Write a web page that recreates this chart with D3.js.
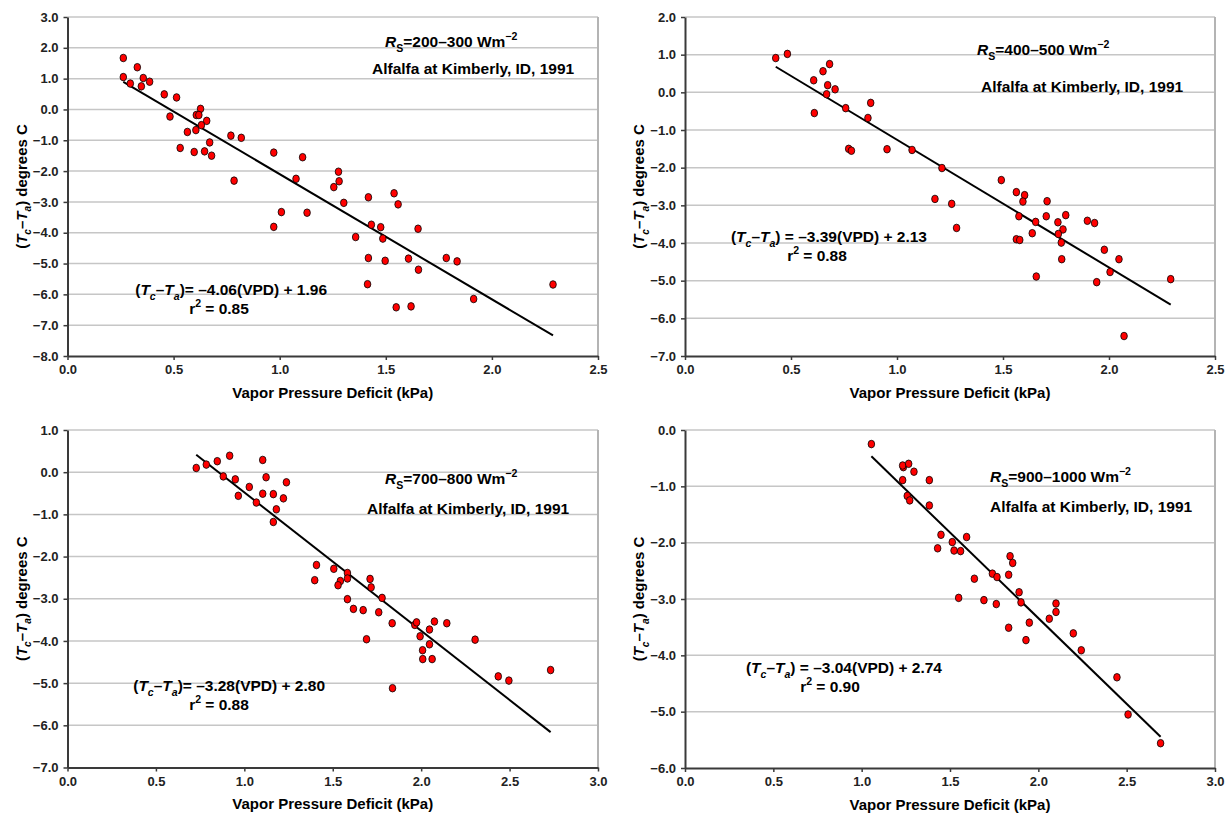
<!DOCTYPE html>
<html>
<head>
<meta charset="utf-8">
<script src="https://cdn.jsdelivr.net/npm/d3@7"></script>
<style>
  body { margin: 0; background: #fff; }
  svg { font-family: "Liberation Sans", Arial, sans-serif; font-weight: bold; }
</style>
</head>
<body>
<svg id="chart" width="1228" height="814"></svg>
<script>
// values: VPD (kPa) and Tc-Ta (degrees C), one pair of arrays per panel
const vpd1 = [0.263,0.263,0.296,0.329,0.357,0.348,0.387,0.456,0.514,0.483,0.627,0.607,0.619,0.656,0.631,0.605,0.565,0.531,0.597,0.646,0.679,0.670,0.770,0.819,0.785,0.972,1.108,1.077,1.008,1.129,0.972,1.277,1.280,1.255,1.302,1.418,1.539,1.558,1.432,1.476,1.486,1.358,1.652,1.418,1.497,1.607,1.654,1.785,1.836,1.414,1.549,1.619,1.914,2.288];
const dT1  = [1.67,1.05,0.84,1.37,1.02,0.75,0.90,0.49,0.39,-0.23,0.02,-0.18,-0.18,-0.37,-0.51,-0.67,-0.73,-1.25,-1.38,-1.36,-1.50,-1.07,-0.85,-0.92,-2.31,-1.40,-1.55,-2.25,-3.33,-3.35,-3.81,-2.02,-2.33,-2.52,-3.03,-2.85,-2.72,-3.08,-3.74,-3.82,-4.19,-4.14,-3.87,-4.82,-4.91,-4.84,-5.20,-4.82,-4.93,-5.67,-6.42,-6.39,-6.15,-5.68];

const vpd2 = [0.428,0.483,0.607,0.610,0.651,0.682,0.673,0.668,0.708,0.758,0.772,0.785,0.876,0.863,0.953,1.071,1.179,1.212,1.258,1.281,1.492,1.563,1.602,1.594,1.708,1.575,1.654,1.704,1.796,1.759,1.783,1.761,1.775,1.638,1.563,1.579,1.777,1.657,1.898,1.932,1.978,2.047,2.005,1.942,2.291,2.071];
const dT2  = [0.91,1.02,0.32,-0.55,0.56,0.75,0.19,-0.05,0.08,-0.42,-1.50,-1.55,-0.28,-0.68,-1.51,-1.53,-2.83,-2.01,-2.96,-3.60,-2.33,-2.65,-2.73,-2.90,-2.89,-3.29,-3.44,-3.29,-3.26,-3.45,-3.64,-3.76,-3.99,-3.74,-3.90,-3.92,-4.43,-4.89,-3.41,-3.47,-4.18,-4.43,-4.77,-5.04,-4.96,-6.47];

const vpd3 = [0.728,0.785,0.847,0.917,0.881,0.949,0.966,1.028,1.068,1.104,1.123,1.104,1.164,1.181,1.164,1.221,1.238,1.408,1.398,1.506,1.583,1.543,1.530,1.583,1.711,1.717,1.779,1.583,1.617,1.672,1.760,1.836,1.691,1.964,1.974,2.075,2.145,2.047,1.994,2.047,2.008,2.009,2.062,2.305,2.436,2.496,2.732,1.838];
const dT3  = [0.10,0.18,0.26,0.39,-0.10,-0.17,-0.56,-0.35,-0.72,0.29,-0.12,-0.51,-0.52,-0.88,-1.18,-0.62,-0.24,-2.20,-2.56,-2.29,-2.39,-2.58,-2.68,-2.52,-2.53,-2.73,-2.98,-3.01,-3.24,-3.27,-3.32,-3.58,-3.96,-3.62,-3.56,-3.54,-3.58,-3.73,-3.89,-4.08,-4.22,-4.43,-4.43,-3.97,-4.84,-4.94,-4.69,-5.12];

const vpd4 = [1.055,1.236,1.232,1.266,1.296,1.232,1.383,1.258,1.272,1.383,1.449,1.430,1.513,1.523,1.560,1.594,1.549,1.638,1.692,1.740,1.766,1.762,1.840,1.855,1.832,1.891,1.902,1.832,1.949,1.930,2.062,2.100,2.100,2.198,2.243,2.445,2.508,2.692];
const dT4  = [-0.25,-0.66,-0.63,-0.60,-0.74,-0.89,-0.89,-1.17,-1.25,-1.34,-1.86,-2.10,-1.99,-2.14,-2.15,-1.90,-2.98,-2.64,-3.02,-2.55,-2.61,-3.09,-2.24,-2.36,-2.57,-2.88,-3.06,-3.51,-3.42,-3.73,-3.35,-3.08,-3.23,-3.61,-3.91,-4.39,-5.05,-5.56];

// regression results printed on each panel
const slopes = [-4.06, -3.39, -3.28, -3.04];
const intercepts = [1.96, 2.13, 2.80, 2.74];
const rSquared = [0.85, 0.88, 0.88, 0.90];
const rsBands = ["200–300", "400–500", "700–800", "900–1000"];
const siteLabel = "Alfalfa at Kimberly, ID, 1991";

// tick values
const xTicksA = [0, 0.5, 1.0, 1.5, 2.0, 2.5];
const xTicksB = [0, 0.5, 1.0, 1.5, 2.0, 2.5, 3.0];
const yTicks1 = [3, 2, 1, 0, -1, -2, -3, -4, -5, -6, -7, -8];
const yTicks2 = [2, 1, 0, -1, -2, -3, -4, -5, -6, -7];
const yTicks3 = [1, 0, -1, -2, -3, -4, -5, -6, -7];
const yTicks4 = [0, -1, -2, -3, -4, -5, -6];

const svg = d3.select("#chart");
const fmt = d3.format(".1f");

// draw text made of pieces (italic, subscript, superscript)
function richText(sel, x, y, parts, size, anchor) {
  const t = sel.append("text")
    .attr("x", x).attr("y", y)
    .attr("font-size", size)
    .attr("text-anchor", anchor || "start")
    .attr("fill", "#000");
  let cur = 0;
  parts.forEach(p => {
    const off = p.sub ? size * 0.3 : p.sup ? -size * 0.42 : 0;
    t.append("tspan")
      .attr("dy", off - cur)
      .attr("font-size", (p.sub || p.sup) ? size * 0.68 : size)
      .attr("font-style", p.i ? "italic" : "normal")
      .text(p.t);
    cur = off;
  });
  return t;
}

const tcta = [{t:"("},{t:"T",i:1},{t:"c",sub:1,i:1},{t:"–"},{t:"T",i:1},{t:"a",sub:1,i:1},{t:")"}];

const panels = [
  { xs: vpd1, ys: dT1, left: 67.5, top: 17, w: 530.5, h: 339, xMax: 2.5, xTicks: xTicksA, yTicks: yTicks1,
    rs: [385, 47], site: [372, 74], eq: [327, 295], eqSep: "= ", r2: [219, 314] },
  { xs: vpd2, ys: dT2, left: 685, top: 17, w: 530, h: 339, xMax: 2.5, xTicks: xTicksA, yTicks: yTicks2,
    rs: [977, 55], site: [981, 92], eq: [927, 242], eqSep: " = ", r2: [817, 261] },
  { xs: vpd3, ys: dT3, left: 67.5, top: 430, w: 530.5, h: 337.5, xMax: 3.0, xTicks: xTicksB, yTicks: yTicks3,
    rs: [385, 484], site: [367, 514], eq: [325, 691], eqSep: "= ", r2: [219, 710] },
  { xs: vpd4, ys: dT4, left: 685, top: 430, w: 530, h: 338, xMax: 3.0, xTicks: xTicksB, yTicks: yTicks4,
    rs: [990, 482], site: [990, 512], eq: [942, 673], eqSep: " = ", r2: [830, 692] }
];

panels.forEach((p, k) => {
  const x = d3.scaleLinear().domain([0, p.xMax]).range([p.left, p.left + p.w]);
  const yMax = d3.max(p.yTicks), yMin = d3.min(p.yTicks);
  const y = d3.scaleLinear().domain([yMin, yMax]).range([p.top + p.h, p.top]);

  const g = svg.append("g");

  // horizontal gridlines
  g.selectAll(".grid").data(p.yTicks.filter(v => v !== yMin)).enter()
    .append("line")
    .attr("x1", p.left).attr("x2", p.left + p.w)
    .attr("y1", d => y(d)).attr("y2", d => y(d))
    .attr("stroke", "#c6c6c6").attr("stroke-width", 1.5);

  // right border
  g.append("line")
    .attr("x1", p.left + p.w).attr("x2", p.left + p.w)
    .attr("y1", p.top).attr("y2", p.top + p.h)
    .attr("stroke", "#b4b4b4").attr("stroke-width", 2);

  // axes
  const xAxis = g.append("g")
    .attr("transform", "translate(0," + (p.top + p.h) + ")")
    .call(d3.axisBottom(x).tickValues(p.xTicks).tickFormat(fmt).tickSize(4).tickPadding(5).tickSizeOuter(0));
  const yAxis = g.append("g")
    .attr("transform", "translate(" + p.left + ",0)")
    .call(d3.axisLeft(y).tickValues(p.yTicks).tickFormat(fmt).tickSize(4).tickPadding(5).tickSizeOuter(0));
  [xAxis, yAxis].forEach(a => {
    a.select(".domain").attr("stroke", "#3a3a3a").attr("stroke-width", 2);
    a.selectAll(".tick line").attr("stroke", "#3a3a3a").attr("stroke-width", 1.5);
    a.selectAll(".tick text")
      .attr("font-size", 13)
      .attr("font-family", "'Liberation Sans', Arial, sans-serif")
      .attr("font-weight", "bold")
      .attr("fill", "#222");
  });

  // regression line over the data range
  const x0 = d3.min(p.xs), x1 = d3.max(p.xs);
  g.append("path")
    .datum([x0, x1])
    .attr("d", d3.line().x(d => x(d)).y(d => y(slopes[k] * d + intercepts[k])))
    .attr("stroke", "#000").attr("stroke-width", 2).attr("fill", "none");

  // points
  g.selectAll(".pt").data(p.xs.map((v, i) => [v, p.ys[i]])).enter()
    .append("ellipse")
    .attr("cx", d => x(d[0])).attr("cy", d => y(d[1]))
    .attr("rx", 3.3).attr("ry", 3.8)
    .attr("fill", "#ff0000").attr("stroke", "#000").attr("stroke-width", 0.8);

  // axis titles
  svg.append("text")
    .attr("x", p.left + p.w / 2).attr("y", p.top + p.h + 41.5)
    .attr("text-anchor", "middle").attr("font-size", 15)
    .text("Vapor Pressure Deficit (kPa)");
  const yl = svg.append("g")
    .attr("transform", "translate(" + (p.left - 41) + "," + (p.top + p.h / 2) + ") rotate(-90)");
  richText(yl, 0, 0, tcta.concat([{t:" degrees C"}]), 15, "middle");

  // annotations
  richText(svg, p.rs[0], p.rs[1],
    [{t:"R",i:1},{t:"S",sub:1},{t:"=" + rsBands[k] + " Wm"},{t:"−2",sup:1}], 15.5);
  richText(svg, p.site[0], p.site[1], [{t:siteLabel}], 15.5);
  richText(svg, p.eq[0], p.eq[1],
    tcta.concat([{t:p.eqSep + "–" + Math.abs(slopes[k]).toFixed(2) + "(VPD) + " + intercepts[k].toFixed(2)}]),
    15.5, "end");
  richText(svg, p.r2[0], p.r2[1],
    [{t:"r"},{t:"2",sup:1},{t:" = " + rSquared[k].toFixed(2)}], 15.5, "middle");
});
</script>
</body>
</html>
